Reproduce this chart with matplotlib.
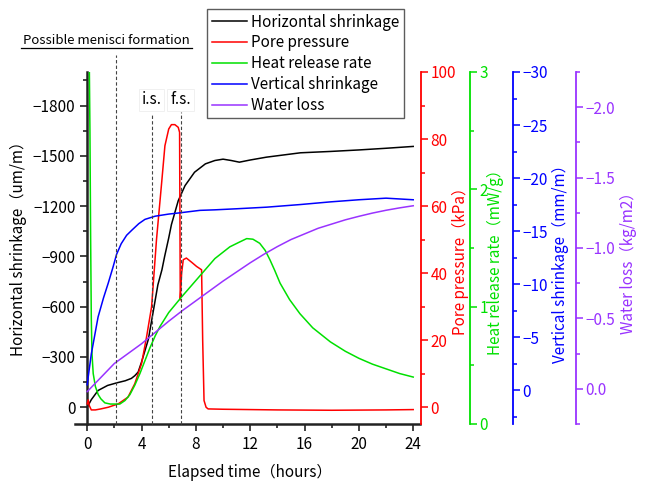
import matplotlib
matplotlib.use("Agg")
import matplotlib.pyplot as plt
from matplotlib.lines import Line2D
from matplotlib.ticker import MultipleLocator

plt.rcParams['font.family'] = ['Noto Sans CJK JP', 'DejaVu Sans']
plt.rcParams['axes.unicode_minus'] = True

# horizontal shrinkage (um/m), negative = shrinkage
t_hor = [0, 0.3, 0.8, 1.5, 2.2, 2.8, 3.25, 3.5, 3.75, 4.0, 4.5, 4.9, 5.2, 5.5,
         5.7, 6.0, 6.2, 6.7, 7.2, 7.9, 8.7, 9.4, 10.0, 10.6, 11.2, 12.0, 13.2,
         15.7, 17.9, 20, 22, 24]
hor = [0, -45, -100, -130, -146, -158, -172, -188, -210, -270, -405, -590, -730,
       -820, -900, -1010, -1090, -1232, -1322, -1402, -1452, -1472, -1480, -1472,
       -1462, -1475, -1492, -1518, -1526, -1535, -1545, -1556]

# pore pressure (kPa)
t_pore = [0, 0.07, 0.15, 0.3, 0.6, 1.0, 1.55, 2.28, 3.0, 3.5, 4.0, 4.37, 4.74,
          5.1, 5.48, 5.72, 6.0, 6.2, 6.45, 6.7, 6.8, 6.85, 6.95, 7.07, 7.3, 7.7,
          8.05, 8.42, 8.5, 8.6, 8.75, 8.9, 10, 14, 18, 22, 24]
pore = [1.0, 2.2, 0.5, -0.8, -0.8, -0.5, 0, 1, 3, 7, 13, 21, 30, 50, 67, 78, 83,
        84.3, 84.3, 83.5, 82, 32, 40, 44, 44.5, 43.2, 42, 41, 20, 2, 0, -0.5,
        -0.6, -0.8, -0.9, -0.8, -0.7]

# heat release rate (mW/g)
t_heat = [0.15, 0.2, 0.25, 0.3, 0.35, 0.44, 0.6, 0.81, 1.0, 1.3, 1.7, 2.04, 2.4,
          2.78, 3.14, 3.5, 3.88, 4.25, 4.62, 5.0, 5.35, 6.0, 7.0, 8.2, 9.4, 10.5,
          11.2, 11.74, 12.2, 12.7, 13.1, 13.45, 13.8, 14.2, 14.9, 15.66, 16.6,
          17.9, 19, 20, 21, 22, 23, 24]
heat = [3.1, 2.5, 1.6, 0.9, 0.6, 0.43, 0.32, 0.25, 0.215, 0.18, 0.17, 0.17, 0.17,
        0.2, 0.25, 0.33, 0.43, 0.54, 0.65, 0.75, 0.83, 0.95, 1.09, 1.25, 1.41,
        1.51, 1.55, 1.58, 1.575, 1.54, 1.48, 1.40, 1.31, 1.20, 1.06, 0.94, 0.82,
        0.70, 0.62, 0.56, 0.51, 0.47, 0.43, 0.40]

# vertical shrinkage (mm/m)
t_vert = [0, 0.1, 0.3, 0.8, 1.2, 1.55, 1.9, 2.16, 2.5, 2.9, 3.3, 3.8, 4.25, 5.0,
          6.0, 6.7, 8.3, 9.4, 11, 13.2, 15.7, 17.9, 20, 22, 24]
vert = [-0.5, -1.5, -3.4, -6.9, -8.7, -10.1, -11.6, -12.8, -13.8, -14.6, -15.1,
        -15.7, -16.1, -16.4, -16.6, -16.7, -16.95, -17.0, -17.1, -17.25, -17.5,
        -17.75, -17.95, -18.1, -17.95]

# water loss (kg/m2)
t_water = list(range(0, 25))
water = [0.02, -0.08, -0.18, -0.25, -0.32, -0.40, -0.48, -0.555, -0.625, -0.695,
         -0.765, -0.83, -0.895, -0.955, -1.01, -1.06, -1.10, -1.14, -1.17, -1.2,
         -1.225, -1.248, -1.268, -1.285, -1.30]

events = [2.1, 4.75, 6.87]
event_labels = ['i.s.', 'f.s.']

RED = '#ff0000'
GREEN = '#00e000'
BLUE = '#0000ff'
PURPLE = '#9933ff'
FS = 11

fig = plt.figure(figsize=(6.46, 4.84), dpi=100)
W, H = 646, 484
x0, x1, ytop, ybot = 75, 420, 72, 424
ax = fig.add_axes([x0 / W, 1 - ybot / H, (x1 - x0) / W, (ybot - ytop) / H])
ax.patch.set_alpha(0)

l_x, = ax.plot(t_hor, hor, color='black', lw=1.1, label='Horizontal shrinkage')
ax.set_xlim(-0.9, 24.5)
ax.set_ylim(100, -2000)
ax.spines['top'].set_visible(False)
ax.spines['right'].set_visible(False)
ax.spines['left'].set_position(('data', 0))
for s in ('left', 'bottom'):
    ax.spines[s].set_linewidth(1.8)
    ax.spines[s].set_color('#222222')
ax.xaxis.set_major_locator(MultipleLocator(4))
ax.xaxis.set_minor_locator(MultipleLocator(2))
ax.yaxis.set_major_locator(MultipleLocator(300))
ax.yaxis.set_minor_locator(MultipleLocator(150))
ax.tick_params(which='both', direction='out', labelsize=FS, width=1.2, color='#222222')
ax.tick_params(which='major', length=5)
ax.tick_params(which='minor', length=3)


def side_axis(pos, color, lim, major, minor):
    a = ax.twinx()
    a.set_ylim(*lim)
    for s in ('left', 'top', 'bottom'):
        a.spines[s].set_visible(False)
    a.spines['right'].set_position(('axes', pos))
    a.spines['right'].set_color(color)
    a.spines['right'].set_linewidth(1.3)
    a.yaxis.set_major_locator(MultipleLocator(major))
    a.yaxis.set_minor_locator(MultipleLocator(minor))
    a.tick_params(which='both', direction='out', colors=color, labelsize=FS,
                  width=1.1, pad=2)
    a.tick_params(which='major', length=5)
    a.tick_params(which='minor', length=3)
    return a


span = x1 - x0
ax_p = side_axis((420.7 - x0) / span, RED, (-5, 100), 20, 10)
ax_h = side_axis((470 - x0) / span, GREEN, (0, 3), 1, 0.5)
ax_v = side_axis((512.7 - x0) / span, BLUE, (3.2, -30), 5, 2.5)
ax_w = side_axis((576 - x0) / span, PURPLE, (0.25, -2.25), 0.5, 0.25)
ax_h.yaxis.set_major_formatter(plt.FuncFormatter(lambda v, p: '%d' % v))
ax_w.yaxis.set_major_formatter(
    plt.FuncFormatter(lambda v, p: ('%.1f' % v).replace('-', '\u2212')))

l_p, = ax_p.plot(t_pore, pore, color=RED, lw=1.1, label='Pore pressure')
l_h, = ax_h.plot(t_heat, heat, color=GREEN, lw=1.1, label='Heat release rate')
l_v, = ax_v.plot(t_vert, vert, color=BLUE, lw=1.1, label='Vertical shrinkage')
l_w, = ax_w.plot(t_water, water, color=PURPLE, lw=1.1, label='Water loss')

# dashed event markers
tops = [(ybot - 55) / (ybot - ytop), (ybot - 113) / (ybot - ytop),
        (ybot - 112) / (ybot - ytop)]
for xe, yt in zip(events, tops):
    ax_w.axvline(xe, ymin=0, ymax=yt, color='#444444', lw=0.8, ls=(0, (3, 2)),
                 clip_on=False)
trans = ax.get_xaxis_transform()
for xe, txt in zip(events[1:], event_labels):
    ax_w.text(xe, (ybot - 100) / (ybot - ytop), txt, transform=trans, ha='center',
              va='center', fontsize=FS,
              bbox=dict(facecolor='white', edgecolor='#eeeeee', lw=0.6, pad=2))

fig.text(106 / W, 1 - 40 / H, 'Possible menisci formation', ha='center',
         va='center', fontsize=9.5)
fig.add_artist(Line2D([21 / W, 192 / W], [1 - 48 / H, 1 - 48 / H], color='black',
                      lw=0.9))

# axis titles
fig.text(18 / W, 1 - 245 / H, 'Horizontal shrinkage（um/m）', rotation=90,
         ha='center', va='center', fontsize=FS)
fig.text(460 / W, 1 - 257 / H, 'Pore pressure（kPa）', rotation=90, ha='center',
         va='center', fontsize=FS, color=RED)
fig.text(495.7 / W, 1 - 258 / H, 'Heat release rate（mW/g）', rotation=90,
         ha='center', va='center', fontsize=FS, color=GREEN)
fig.text(560.7 / W, 1 - 260 / H, 'Vertical shrinkage（mm/m）', rotation=90,
         ha='center', va='center', fontsize=FS, color=BLUE)
fig.text(628.3 / W, 1 - 259 / H, 'Water loss（kg/m2）', rotation=90, ha='center',
         va='center', fontsize=FS, color=PURPLE)
fig.text(250 / W, 1 - 472 / H, 'Elapsed time（hours）', ha='center', va='center',
         fontsize=FS)

leg = fig.legend(handles=[l_x, l_p, l_h, l_v, l_w], loc='upper left',
                 bbox_to_anchor=(207 / W, 1 - 9 / H), fontsize=FS, frameon=True,
                 fancybox=False, handlelength=2.3, handletextpad=0.3,
                 labelspacing=0.25, borderpad=0.3, borderaxespad=0)
leg.get_frame().set_edgecolor('#333333')
leg.get_frame().set_linewidth(1.0)

fig.savefig('out.png', dpi=100)
